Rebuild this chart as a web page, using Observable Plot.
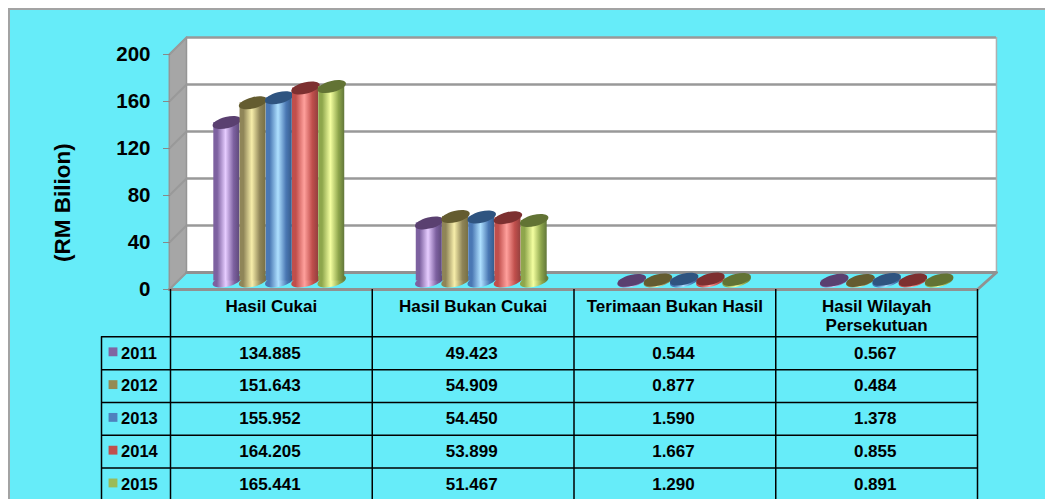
<!DOCTYPE html>
<html>
<head>
<meta charset="utf-8">
<script src="https://cdn.jsdelivr.net/npm/d3@7"></script>
<script src="https://cdn.jsdelivr.net/npm/@observablehq/plot@0.6"></script>
<style>
  html, body { margin: 0; padding: 0; background: #fff; overflow: hidden; width: 1045px; height: 499px; }
  #panel { position: absolute; left: 8px; top: 8px; width: 1060px; height: 520px; box-sizing: border-box; background: #66ecf9; border: 2.5px solid #a3a3a3; }
  #chart { position: absolute; left: 0; top: 0; }
  #chart svg { background: transparent; display: block; }
</style>
</head>
<body>
<div id="panel"></div>
<div id="chart"></div>
<script>
const categories = ["Hasil Cukai", "Hasil Bukan Cukai", "Terimaan Bukan Hasil", "Hasil Wilayah\nPersekutuan"];
const years = ["2011", "2012", "2013", "2014", "2015"];
const values2011 = [134.885, 49.423, 0.544, 0.567];
const values2012 = [151.643, 54.909, 0.877, 0.484];
const values2013 = [155.952, 54.450, 1.590, 1.378];
const values2014 = [164.205, 53.899, 1.667, 0.855];
const values2015 = [165.441, 51.467, 1.290, 0.891];
const series = [values2011, values2012, values2013, values2014, values2015];
const yTicks = [0, 40, 80, 120, 160, 200];

// [edge, highlight, shadow edge, cap, legend]
const palette = [
  ["#7d61a0", "#e6ccff", "#5f4a7c", "#5a4070", "#8064a2"],
  ["#8f8558", "#f7eeaa", "#787044", "#645c30", "#948a54"],
  ["#4a78b4", "#aee0ff", "#365c8c", "#2f5480", "#4f81bd"],
  ["#c04f4c", "#ffa09c", "#94403e", "#7d3030", "#c0504d"],
  ["#8ea64c", "#f4ffa0", "#62773a", "#627334", "#9bbb59"]
];

// The 3-D box's depth and the table's geometry, in scale units
const depthX = 0.0843, depthY = 14.47;
const wallLeft = -0.006, backLeft = 0.0793, backRight = 4.094;
const barStep = 0.13, barHalf = 0.0645, groupStep = 1.0035;
const headerBottom = -40.3, rowStep = -27.9;
const legendLeft = -0.342;

const rows = [];
series.forEach((vals, s) => vals.forEach((v, c) => rows.push({
  s, c, v, xc: c * groupStep + 0.5 + (s - 2) * barStep + depthX / 2 - 0.003
})));

const rowY = i => headerBottom + i * rowStep;
const cellRows = rows.map(d => ({...d, yc: rowY(d.s + 0.5)}));

// Tilted ellipses drawn as a custom dot symbol
function ellipse(a, b, deg) {
  const t = deg * Math.PI / 180, k = 0.5523;
  const p = (x, y) => [x * Math.cos(t) - y * Math.sin(t), x * Math.sin(t) + y * Math.cos(t)];
  return {
    draw(ctx) {
      ctx.moveTo(...p(a, 0));
      ctx.bezierCurveTo(...p(a, k * b), ...p(k * a, b), ...p(0, b));
      ctx.bezierCurveTo(...p(-k * a, b), ...p(-a, k * b), ...p(-a, 0));
      ctx.bezierCurveTo(...p(-a, -k * b), ...p(-k * a, -b), ...p(0, -b));
      ctx.bezierCurveTo(...p(k * a, -b), ...p(a, -k * b), ...p(a, 0));
      ctx.closePath();
    }
  };
}
const disc = ellipse(14.6, 5.6, -14);

function gradients() {
  const defs = d3.create("svg:defs");
  palette.forEach((p, i) => {
    const g = defs.append("linearGradient").attr("id", "cyl" + i);
    [[0, p[0]], [0.15, p[0]], [0.47, p[1]], [0.78, p[0]], [1, p[2]]].forEach(([o, c]) =>
      g.append("stop").attr("offset", o).attr("stop-color", c));
  });
  return defs.node();
}

const wallGrey = "#a6a6a6", edgeGrey = "#959595";
const poly = pts => [...pts, pts[0]];
const sideWall = poly([[wallLeft, 0], [backLeft, depthY], [backLeft, 200 + depthY], [wallLeft, 200]]);
const floorEdge = [[wallLeft, 0], [4, 0], [backRight, depthY], [backLeft, depthY]];

const bar = s => rows.filter(d => d.s === s);

const chart = Plot.plot({
  width: 1045, height: 499,
  marginLeft: 170, marginRight: 68, marginTop: 54, marginBottom: 210,
  style: {background: "transparent", fontFamily: "'Liberation Sans', Arial, sans-serif", overflow: "visible"},
  x: {domain: [0, 4], axis: null},
  y: {domain: [0, 200], axis: null},
  marks: [
    gradients,
    // back wall
    Plot.rect([0], {x1: backLeft, x2: backRight, y1: depthY, y2: 200 + depthY, fill: "white"}),
    Plot.ruleX([backRight], {y1: depthY, y2: 200 + depthY, stroke: "#b0b0b0", strokeWidth: 1.5}),
    // side wall
    Plot.line(sideWall, {fill: wallGrey, stroke: edgeGrey, strokeWidth: 1.5}),
    // gridlines on back wall and wrapping onto the side wall
    Plot.ruleY(yTicks, {y: d => d + depthY, x1: backLeft, x2: backRight, stroke: "#999999", strokeWidth: 2.5}),
    ...yTicks.map(t => Plot.line([[wallLeft, t], [backLeft, t + depthY]], {stroke: "#999999", strokeWidth: 2})),
    // floor outline
    Plot.line(floorEdge, {stroke: "#919191", strokeWidth: 3}),
    // axis
    Plot.axisY({ticks: yTicks, tickSize: 7, tickPadding: 13, stroke: "#888888", fill: "black", fontSize: 20.5, fontWeight: "bold", label: null}),
    Plot.text(["(RM Bilion)"], {x: -0.535, y: 74, rotate: -90, fontSize: 22.5, fontWeight: "bold", fill: "black"}),
    // cylinders: per series, bottom disc, body, top cap
    ...years.flatMap((y, s) => [
      Plot.dot(bar(s), {x: "xc", y: () => depthY / 2, symbol: disc, r: 1, fill: `url(#cyl${s})`, stroke: "none"}),
      Plot.rect(bar(s), {x1: d => d.xc - barHalf, x2: d => d.xc + barHalf, y1: () => depthY / 2, y2: d => d.v + depthY / 2, fill: `url(#cyl${s})`}),
      Plot.dot(bar(s), {x: "xc", y: d => d.v + depthY / 2, symbol: disc, r: 1, fill: palette[s][3], stroke: "none"})
    ]),
    // data table grid
    Plot.ruleX([0, 1, 2, 3, 4], {y1: rowY(5), y2: 0, stroke: "black", strokeWidth: 1.5}),
    Plot.ruleX([legendLeft], {y1: rowY(5), y2: rowY(0), stroke: "black", strokeWidth: 1.5}),
    Plot.ruleY([0, 1, 2, 3, 4, 5].map(rowY), {x1: legendLeft, x2: 4, stroke: "black", strokeWidth: 1.5}),
    // table text
    Plot.text(categories, {x: (d, i) => i + 0.5, y: -7.5, text: d => d, lineAnchor: "top", fontSize: 17, fontWeight: "bold", fill: "black", lineHeight: 1.12}),
    Plot.text(cellRows, {x: d => d.c + 0.493, y: "yc", text: d => d.v.toFixed(3), fontSize: 17, fontWeight: "bold", fill: "black"}),
    Plot.text(years, {x: legendLeft + 0.097, y: (d, i) => rowY(i + 0.5), text: d => d, textAnchor: "start", fontSize: 16.5, fontWeight: "bold", fill: "black"}),
    Plot.dot(years, {x: legendLeft + 0.057, y: (d, i) => rowY(i + 0.5) + 1.2, symbol: "square", r: 5, fill: (d, i) => palette[i][4], stroke: "none"})
  ]
});
document.getElementById("chart").appendChild(chart);
</script>
</body>
</html>
